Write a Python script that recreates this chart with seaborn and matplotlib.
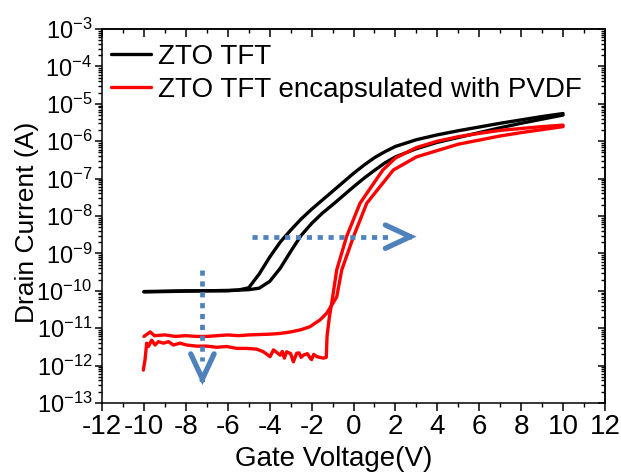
import matplotlib.pyplot as plt
import seaborn as sns
import pandas as pd
import numpy as np
from matplotlib.ticker import AutoMinorLocator, LogLocator, NullFormatter

sns.set_theme(style="white")
plt.rcParams['font.family'] = ['Liberation Sans', 'DejaVu Sans']
plt.rcParams['mathtext.fontset'] = 'custom'
plt.rcParams['mathtext.rm'] = 'Liberation Sans'
plt.rcParams['axes.unicode_minus'] = False
for key in ['text.color', 'axes.labelcolor', 'xtick.color', 'ytick.color', 'axes.edgecolor']:
    plt.rcParams[key] = 'black'

BLACK = "#000000"
RED = "#ff0000"
BLUE = "#4f81bd"

# Bare ZTO TFT, two sweep directions (log10 of drain current in A)
black_a_v = [-10, -9, -8, -7, -6, -5.5, -5, -4.5, -4, -3.5, -3, -2.5, -2, -1.5, -1, -0.5,
             0, 0.5, 1, 1.5, 2, 3, 4, 5, 6, 7, 8, 9, 10]
black_a_log = [-10.03, -10.02, -10.01, -10.0, -10.0, -9.98, -9.92, -9.55, -9.10, -8.70, -8.38,
               -8.08, -7.82, -7.58, -7.34, -7.10, -6.86, -6.64, -6.44, -6.28, -6.14, -5.96,
               -5.83, -5.72, -5.62, -5.52, -5.43, -5.34, -5.26]
black_b_v = [-10, -9, -8, -7, -6, -5, -4.5, -4, -3.5, -3, -2.5, -2, -1.5, -1, -0.5,
             0, 0.5, 1, 1.5, 2, 3, 4, 5, 6, 7, 8, 9, 10]
black_b_log = [-10.02, -10.01, -10.0, -10.0, -9.99, -9.97, -9.93, -9.75, -9.40, -8.95, -8.52,
               -8.20, -7.93, -7.70, -7.46, -7.22, -6.99, -6.78, -6.58, -6.42, -6.20, -6.03,
               -5.90, -5.77, -5.64, -5.52, -5.41, -5.30]

# PVDF encapsulated TFT: noisy lower sweep and smooth upper sweep
red_c_v = [-10.03, -9.95, -9.87, -9.79, -9.63, -9.47, -9.31, -9.07, -8.83, -8.59, -8.28, -7.96,
           -7.48, -7.0, -6.53, -6.05, -5.57, -5.1, -4.62, -4.3, -3.98, -3.82, -3.5, -3.4, -3.3,
           -3.19, -3.0, -2.87, -2.71, -2.6, -2.5, -2.39, -2.2, -2.07, -2.0, -1.9, -1.75, -1.6,
           -1.44, -1.30, -1.26, -1.15, -1.04, -0.80, -0.33, 0.31, 1.4, 2.0, 3.0, 4.0, 5.0, 6.0,
           7.0, 8.0, 9.0, 10.0]
red_c_log = [-12.12, -11.85, -11.40, -11.49, -11.32, -11.45, -11.36, -11.40, -11.36, -11.45,
             -11.40, -11.45, -11.48, -11.48, -11.51, -11.49, -11.54, -11.54, -11.56, -11.63,
             -11.76, -11.58, -11.72, -11.62, -11.80, -11.63, -11.68, -11.90, -11.67, -11.66,
             -11.78, -11.72, -11.68, -11.80, -11.84, -11.70, -11.76, -11.78, -11.80, -11.78,
             -11.2, -10.7, -10.33, -9.44, -8.55, -7.66, -6.77, -6.45, -6.17, -6.0, -5.88,
             -5.79, -5.71, -5.66, -5.61, -5.57]
red_d_v = [-10.0, -9.9, -9.7, -9.5, -9.0, -8.5, -8.0, -7.5, -7.0, -6.5, -6.0, -5.5, -5.0, -4.5,
           -4.0, -3.5, -3.0, -2.5, -2.08, -1.6, -1.28, -1.0, -0.8, -0.56, 0.0, 0.63, 1.9, 3.0,
           4.0, 5.0, 6.0, 7.0, 8.0, 9.0, 10.0]
red_d_log = [-11.22, -11.18, -11.10, -11.20, -11.18, -11.22, -11.20, -11.22, -11.22, -11.20,
             -11.18, -11.20, -11.18, -11.17, -11.16, -11.14, -11.10, -11.04, -10.96, -10.78,
             -10.60, -10.35, -10.16, -9.44, -8.55, -7.66, -6.77, -6.42, -6.25, -6.08, -5.97,
             -5.86, -5.77, -5.69, -5.61]

labels = ["ZTO TFT", "ZTO TFT encapsulated with PVDF"]

# guide arrows (V, A)
h_arrow_v = [-4.86, 3.01]
h_arrow_i = 2.8e-9
v_arrow_v = -7.21
v_arrow_i = [3.6e-10, 3.0e-13]

frames = []
for v, lg, dev, sw in [(black_a_v, black_a_log, labels[0], "b1"),
                       (black_b_v, black_b_log, labels[0], "b2"),
                       (red_c_v, red_c_log, labels[1], "r1"),
                       (red_d_v, red_d_log, labels[1], "r2")]:
    frames.append(pd.DataFrame({"V": v, "I": 10.0 ** np.array(lg), "device": dev, "sweep": sw}))
df = pd.concat(frames, ignore_index=True)

fig = plt.figure(figsize=(6.21, 4.75), dpi=100)
ax = fig.add_axes([0.1643, 0.1516, 0.8099, 0.7873])
sns.lineplot(data=df, x="V", y="I", hue="device", hue_order=labels, units="sweep",
             estimator=None, sort=False, palette=[BLACK, RED], lw=2.4, ax=ax)
ax.set_yscale("log")
ax.set_xlim(-12, 12)
ax.set_ylim(1e-13, 1e-3)

# dotted arrows
head = dict(arrowstyle="->,head_length=0.9,head_width=0.42", lw=3.8, color=BLUE,
            mutation_scale=20, shrinkA=0, shrinkB=0, capstyle="round", joinstyle="miter")
ax.plot([h_arrow_v[0], h_arrow_v[1] - 1.15], [h_arrow_i, h_arrow_i], color=BLUE, lw=3.4,
        dashes=(1.1, 1.2), solid_capstyle="butt")
ax.annotate("", xy=(h_arrow_v[1], h_arrow_i), xytext=(h_arrow_v[1] - 0.3, h_arrow_i),
            arrowprops=head)
ax.plot([v_arrow_v, v_arrow_v], [v_arrow_i[0], 1.3e-12], color=BLUE, lw=3.4,
        dashes=(1.1, 1.2), solid_capstyle="butt")
ax.annotate("", xy=(v_arrow_v, v_arrow_i[1]), xytext=(v_arrow_v, 4.0e-13),
            arrowprops=head)

ax.set_xticks(np.arange(-12, 13, 2))
ax.xaxis.set_minor_locator(AutoMinorLocator(2))
ax.yaxis.set_major_locator(LogLocator(base=10, numticks=20))
ax.yaxis.set_minor_locator(LogLocator(base=10, subs=np.arange(2, 10), numticks=20))
ax.yaxis.set_minor_formatter(NullFormatter())
ax.tick_params(axis="both", which="both", bottom=True, left=True, top=False, right=False)
ax.tick_params(axis="both", which="major", direction="out", length=5, width=1.1, pad=2)
ax.tick_params(axis="both", which="minor", direction="out", length=3, width=1.0)
ax.tick_params(axis="x", which="major", length=6, labelsize=20)
ax.tick_params(axis="y", which="major", labelsize=17)

top = ax.secondary_xaxis("top")
top.set_xticks(np.arange(-12, 13, 2))
top.xaxis.set_minor_locator(AutoMinorLocator(2))
top.tick_params(axis="x", which="both", top=True, direction="in", labeltop=False)
top.tick_params(axis="x", which="major", length=6, width=1.1)
top.tick_params(axis="x", which="minor", length=3, width=1.0)
right = ax.secondary_yaxis("right")
right.yaxis.set_major_locator(LogLocator(base=10, numticks=20))
right.yaxis.set_minor_locator(LogLocator(base=10, subs=np.arange(2, 10), numticks=20))
right.tick_params(axis="y", which="both", right=True, direction="in", labelright=False)
right.tick_params(axis="y", which="major", length=5, width=1.1)
right.tick_params(axis="y", which="minor", length=3, width=1.0)

for a in (ax, top, right):
    for s in a.spines.values():
        s.set_linewidth(1.1)
        s.set_color("black")

ax.set_xlabel("Gate Voltage(V)", fontsize=20)
ax.set_ylabel("Drain Current (A)", fontsize=19)
ax.xaxis.set_label_coords(0.46, -0.115)
ax.yaxis.set_label_coords(-0.125, 0.484)

handles, labs = ax.get_legend_handles_labels()
ax.legend(handles, labs, loc="upper left", bbox_to_anchor=(-0.005, 0.99), frameon=False,
          fontsize=20, handlelength=1.45, handletextpad=0.25, labelspacing=0.25,
          borderaxespad=0.2, borderpad=0.2)

fig.savefig("out.png", dpi=100)
